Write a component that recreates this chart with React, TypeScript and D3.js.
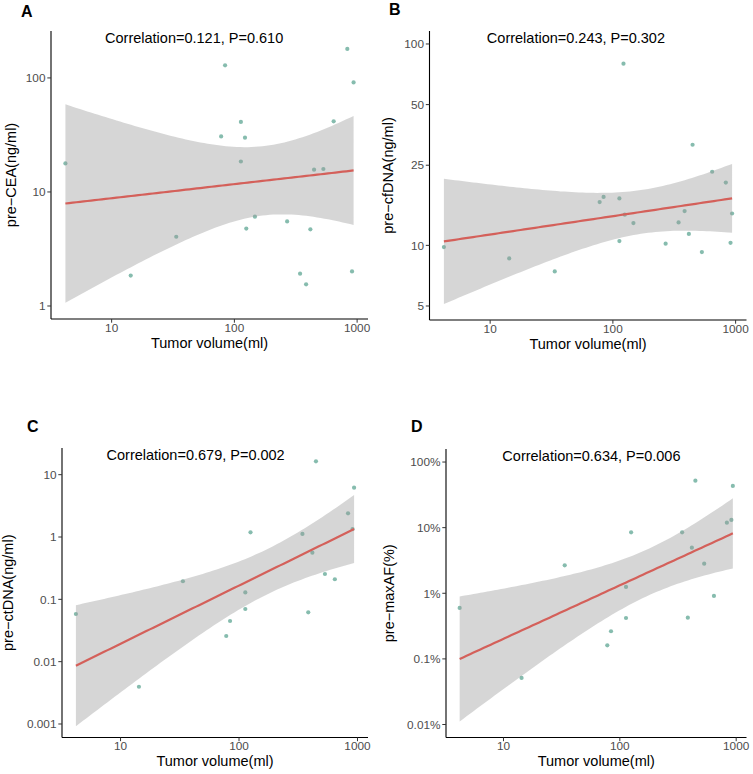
import React from 'react'
import * as d3 from 'd3'

// tumour volume (ml) for all 20 patients, and for the 17 with ctDNA / maxAF
const volume = [4.2, 14.3, 33.6, 78, 84, 113, 113, 122, 125, 147, 269, 343, 384, 416, 446, 531, 644, 832, 909, 936]
const volumeCD = [4.2, 14.3, 33.6, 78, 84, 113, 113, 125, 343, 384, 416, 446, 531, 644, 832, 909, 936]

const cea = [17.8, 1.85, 4.05, 30.7, 129, 41.1, 18.5, 29.9, 4.77, 6.07, 5.52, 1.92, 1.55, 4.7, 15.7, 15.9, 41.6, 179.5, 2.01, 91.4]
const cfdna = [9.81, 8.61, 7.42, 16.4, 17.4, 17.1, 10.5, 79.8, 14.2, 12.9, 10.2, 13.0, 14.8, 11.4, 31.6, 9.26, 23.2, 20.5, 10.3, 14.4]
const ctdna = [0.0582, 0.00396, 0.195, 0.0258, 0.0449, 0.129, 0.07, 1.19, 1.12, 0.0619, 0.56, 16.4, 0.255, 0.21, 2.4, 1.34, 6.18]
const maxaf = [0.597, 0.0512, 2.67, 0.161, 0.264, 1.25, 0.42, 8.5, 8.5, 0.425, 4.96, 52, 2.83, 0.91, 11.9, 13.1, 43.2]

const xTicks = [10, 100, 1000]
const ceaTicks = [1, 10, 100]
const cfdnaTicks = [5, 10, 25, 50, 100]
const ctdnaTicks = [0.001, 0.01, 0.1, 1, 10]
const ctdnaTickLabels = ['0.001', '0.01', '0.1', '1', '10']
const maxafTicks = [0.01, 0.1, 1, 10, 100]
const maxafTickLabels = ['0.01%', '0.1%', '1%', '10%', '100%']

const stats = [
  'Correlation=0.121, P=0.610',
  'Correlation=0.243, P=0.302',
  'Correlation=0.679, P=0.002',
  'Correlation=0.634, P=0.006',
]

const FONT = '"Liberation Sans", Arial, Helvetica, sans-serif'
const POINT = '#86bcae'
const LINE = '#d4605a'

// 97.5% t quantile (Cornish-Fisher expansion)
function tq(df) {
  const z = 1.959964
  const z3 = z ** 3, z5 = z ** 5, z7 = z ** 7
  return z + (z3 + z) / (4 * df) + (5 * z5 + 16 * z3 + 3 * z) / (96 * df ** 2) +
    (3 * z7 + 19 * z5 + 17 * z3 - 15 * z) / (384 * df ** 3)
}

// lm on log10/log10 with 95% confidence band, like geom_smooth(method = 'lm')
function fitLm(xs, ys) {
  const lx = xs.map(Math.log10), ly = ys.map(Math.log10)
  const n = lx.length
  const mx = d3.mean(lx), my = d3.mean(ly)
  const sxx = d3.sum(lx, v => (v - mx) ** 2)
  const sxy = d3.sum(lx, (v, i) => (v - mx) * (ly[i] - my))
  const b = sxy / sxx, a = my - b * mx
  const rss = d3.sum(lx, (v, i) => (ly[i] - a - b * v) ** 2)
  const s = Math.sqrt(rss / (n - 2))
  const t = tq(n - 2)
  const [lo, hi] = d3.extent(lx)
  return d3.range(80).map(i => {
    const v = lo + (hi - lo) * i / 79
    const f = a + b * v
    const se = s * Math.sqrt(1 / n + (v - mx) ** 2 / sxx)
    return { x: 10 ** v, y: 10 ** f, lo: 10 ** (f - t * se), hi: 10 ** (f + t * se) }
  })
}

function Panel({ letter, letterPos, box, xs, ys, yLim, yTicks, yTickLabels, yTitle, stat, statX }) {
  const lx = d3.extent(xs.map(Math.log10))
  const pad = (lx[1] - lx[0]) * 0.05
  const x = d3.scaleLog().domain([10 ** (lx[0] - pad), 10 ** (lx[1] + pad)]).range([box.left, box.right])
  const y = d3.scaleLog().domain(yLim).range([box.bottom, box.top])
  const fit = fitLm(xs, ys)
  const area = d3.area().x(d => x(d.x)).y0(d => y(d.lo)).y1(d => y(d.hi))
  const line = d3.line().x(d => x(d.x)).y(d => y(d.y))
  const midY = (box.top + box.bottom) / 2

  return (
    <g fontFamily={FONT}>
      <text x={letterPos[0]} y={letterPos[1]} fontSize={16} fontWeight="bold">{letter}</text>
      {xs.map((v, i) => (
        <circle key={i} cx={x(v)} cy={y(ys[i])} r={2.1} fill={POINT} />
      ))}
      <path d={area(fit)} fill="#999999" fillOpacity={0.4} />
      <path d={line(fit)} fill="none" stroke={LINE} strokeWidth={2.2} />
      <line x1={box.left} x2={box.left} y1={box.top} y2={box.bottom} stroke="#000" strokeWidth={1.1} />
      <line x1={box.left} x2={box.right} y1={box.bottom} y2={box.bottom} stroke="#000" strokeWidth={1.1} />
      {yTicks.map((t, i) => (
        <g key={t}>
          <line x1={box.left - 3.7} x2={box.left} y1={y(t)} y2={y(t)} stroke="#333" strokeWidth={1} />
          <text x={box.left - 5.5} y={y(t)} dy="0.36em" textAnchor="end" fontSize={11.8} fill="#4d4d4d">
            {yTickLabels ? yTickLabels[i] : String(t)}
          </text>
        </g>
      ))}
      {xTicks.map(t => (
        <g key={t}>
          <line x1={x(t)} x2={x(t)} y1={box.bottom} y2={box.bottom + 3.7} stroke="#333" strokeWidth={1} />
          <text x={x(t)} y={box.bottom + 12.5} textAnchor="middle" fontSize={11.8} fill="#4d4d4d">{t}</text>
        </g>
      ))}
      <text x={(box.left + box.right) / 2} y={box.bottom + 28.5} textAnchor="middle" fontSize={14.5}>Tumor volume(ml)</text>
      <text transform={`translate(${box.titleX},${midY}) rotate(-90)`} textAnchor="middle" fontSize={14.5}>{yTitle}</text>
      <text x={x(statX)} y={box.top + 11.5} textAnchor="middle" fontSize={14.5}>{stat}</text>
    </g>
  )
}

export default function App() {
  return (
    <svg width={753} height={774} style={{ position: 'absolute', left: 0, top: 0, background: '#fff' }}>
      <Panel letter="A" letterPos={[21, 17]} box={{ left: 51, top: 31, right: 368, bottom: 319, titleX: 16 }}
        xs={volume} ys={cea} yLim={[0.769, 258]} yTicks={ceaTicks} yTitle="pre−CEA(ng/ml)" stat={stats[0]} statX={47} />
      <Panel letter="B" letterPos={[389, 15]} box={{ left: 429.5, top: 31, right: 746.5, bottom: 320, titleX: 393 }}
        xs={volume} ys={cfdna} yLim={[4.26, 116]} yTicks={cfdnaTicks} yTitle="pre−cfDNA(ng/ml)" stat={stats[1]} statX={50} />
      <Panel letter="C" letterPos={[27, 432]} box={{ left: 62, top: 448, right: 368, bottom: 737.5, titleX: 13 }}
        xs={volumeCD} ys={ctdna} yLim={[0.000607, 26.8]} yTicks={ctdnaTicks} yTickLabels={ctdnaTickLabels}
        yTitle="pre−ctDNA(ng/ml)" stat={stats[2]} statX={43} />
      <Panel letter="D" letterPos={[411, 432]} box={{ left: 446, top: 449, right: 746.5, bottom: 737.5, titleX: 394 }}
        xs={volumeCD} ys={maxaf} yLim={[0.00634, 158]} yTicks={maxafTicks} yTickLabels={maxafTickLabels}
        yTitle="pre−maxAF(%)" stat={stats[3]} statX={57} />
    </svg>
  )
}
